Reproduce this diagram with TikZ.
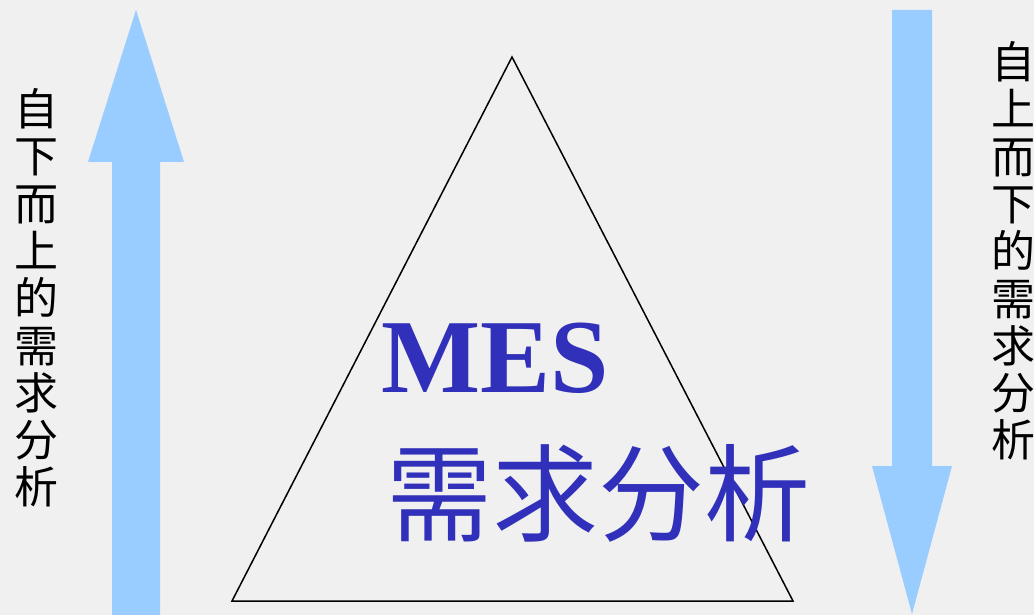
\documentclass[tikz,border=0pt]{standalone}
\usepackage{fontspec}
\setmainfont{Liberation Serif}
\newfontfamily\cjk{Noto Sans CJK SC}
\definecolor{arrowblue}{RGB}{153,204,255}
\definecolor{textblue}{RGB}{48,48,186}
\definecolor{bgcol}{RGB}{240,240,241}
\begin{document}
\begin{tikzpicture}[x=1pt,y=-1pt,
  bigarrow/.style={fill=arrowblue},
  sidetext/.style={font=\cjk\fontsize{44}{47.3}\selectfont, align=center, inner sep=0pt, text=black},
  titletext/.style={text=textblue, inner sep=0pt}]
\fill[bgcol] (0,0) rectangle (1034,615);
\useasboundingbox (0,0) rectangle (1034,615);
% left up arrow
\fill[bigarrow] (112,615) -- (112,162) -- (88,162) -- (136,10) -- (184,162) -- (160,162) -- (160,615) -- cycle;
% right down arrow
\fill[bigarrow] (892,10) -- (932,10) -- (932,466) -- (952,466) -- (912,614) -- (872,466) -- (892,466) -- cycle;
% triangle
\draw[line width=1.5pt, line join=miter] (512,57) -- (793,601) -- (232,601) -- cycle;
% texts
\node[titletext, font=\bfseries\fontsize{105}{105}\selectfont, anchor=base west] (mes) at (381,392) {MES};
\node[titletext, font=\cjk\fontsize{106}{106}\selectfont] (req) at (598,493) {需求分析};
\node[sidetext] (lt) at (37,298) {自\\下\\而\\上\\的\\需\\求\\分\\析};
\node[sidetext] (rt) at (1013,251) {自\\上\\而\\下\\的\\需\\求\\分\\析};
\end{tikzpicture}
\end{document}
